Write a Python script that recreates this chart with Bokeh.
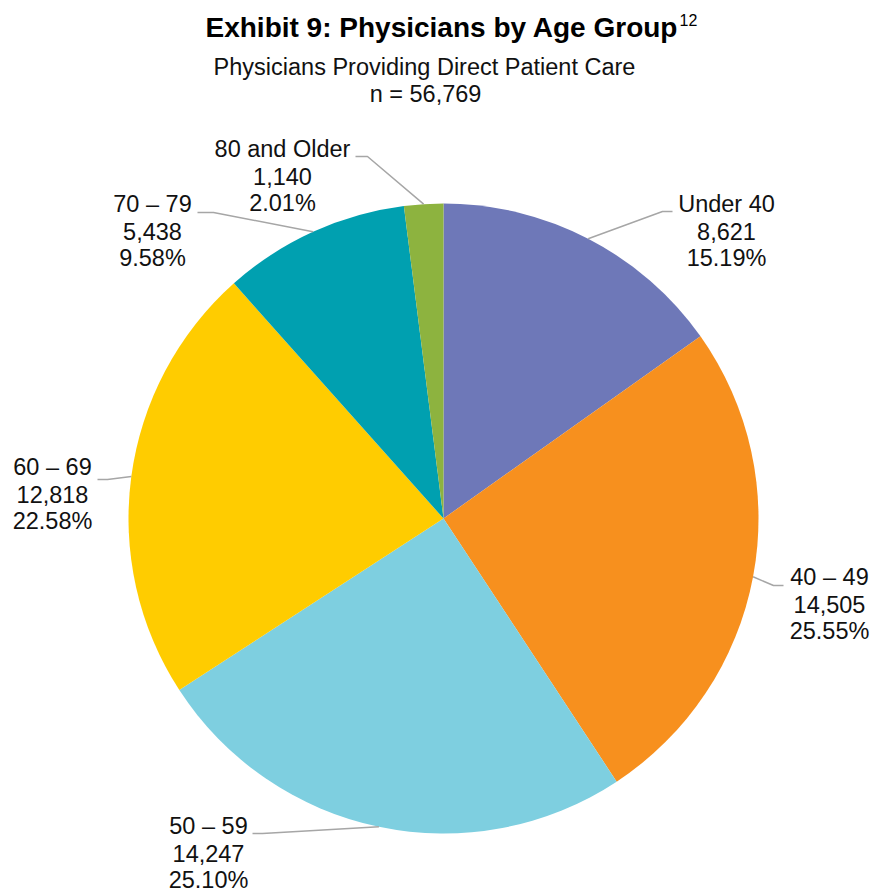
import numpy as np
from bokeh.plotting import figure
from bokeh.models import Range1d
from bokeh.core.properties import value
from bokeh.embed import file_html
from bokeh.resources import INLINE

# ---- data ----
categories = ["Under 40", "40 – 49", "50 – 59", "60 – 69", "70 – 79", "80 and Older"]
counts = [8621, 14505, 14247, 12818, 5438, 1140]
percents = [15.19, 25.55, 25.10, 22.58, 9.58, 2.01]
colors = ["#6E78B8", "#F7901E", "#7ECFE0", "#FFCC00", "#00A0B0", "#8DB33F"]
total_n = 56769
title_text = "Exhibit 9: Physicians by Age Group"
title_sup = "12"
subtitle = "Physicians Providing Direct Patient Care"

# ---- layout (screen px) ----
W, H = 873, 894
FONT = "Liberation Sans"

def Y(sy):
    return H - sy

p = figure(width=W, height=H, x_range=Range1d(0, W), y_range=Range1d(0, H),
           output_backend="svg", toolbar_location=None, min_border=0)
p.axis.visible = False
p.grid.visible = False
p.outline_line_color = None
p.background_fill_color = "white"

cx, cy, r = 443, Y(518), 315
vals = np.array(counts, dtype=float)
fr = vals / vals.sum()
cum = np.concatenate([[0], np.cumsum(fr)])
starts = np.pi / 2 - 2 * np.pi * cum[:-1]
ends = np.pi / 2 - 2 * np.pi * cum[1:]
mids = (starts + ends) / 2

p.wedge(x=cx, y=cy, radius=r, start_angle=starts, end_angle=ends, direction="clock",
        fill_color=colors, line_color=None)

# label layout: text center x, first line screen y, leader near-text point, elbow point
lab_cx = [726, 829, 208, 52, 152, 282]
lab_y0 = [203.5, 576.5, 825.5, 466.5, 203.5, 148.5]
lead_a = [(672, 211), (783, 585), (252, 833), (97, 479), (197, 212), (355, 156)]
lead_b = [(662, 211), (773, 585), (262, 833), (107, 479), (213, 212), (367, 156)]

for i in range(len(categories)):
    px = cx + r * np.cos(mids[i])
    py = cy + r * np.sin(mids[i])
    xs = [lead_a[i][0], lead_b[i][0], px]
    ys = [Y(lead_a[i][1]), Y(lead_b[i][1]), py]
    p.line(xs, ys, line_color="#A6A6A6", line_width=1.5)
    lines = [categories[i], f"{counts[i]:,}", f"{percents[i]:.2f}%"]
    for k, t in enumerate(lines):
        p.text(x=[lab_cx[i]], y=[Y(lab_y0[i] + 27 * k)], text=[t],
               text_font=value(FONT), text_font_size="23.5px", text_color="#111111",
               text_align="center", text_baseline="middle")

# titles
p.text(x=[205], y=[Y(27)], text=[title_text], text_font=value(FONT), text_font_size="28px",
       text_font_style="bold", text_color="#000000", text_align="left", text_baseline="middle")
p.text(x=[679], y=[Y(19)], text=[title_sup], text_font=value(FONT), text_font_size="16px",
       text_color="#000000", text_align="left", text_baseline="middle")
p.text(x=[424], y=[Y(66.5)], text=[subtitle], text_font=value(FONT), text_font_size="23.5px",
       text_color="#111111", text_align="center", text_baseline="middle")
p.text(x=[425], y=[Y(93.5)], text=[f"n = {total_n:,}"], text_font=value(FONT), text_font_size="23.5px",
       text_color="#111111", text_align="center", text_baseline="middle")

open("out.html", "w").write(file_html(p, INLINE))
